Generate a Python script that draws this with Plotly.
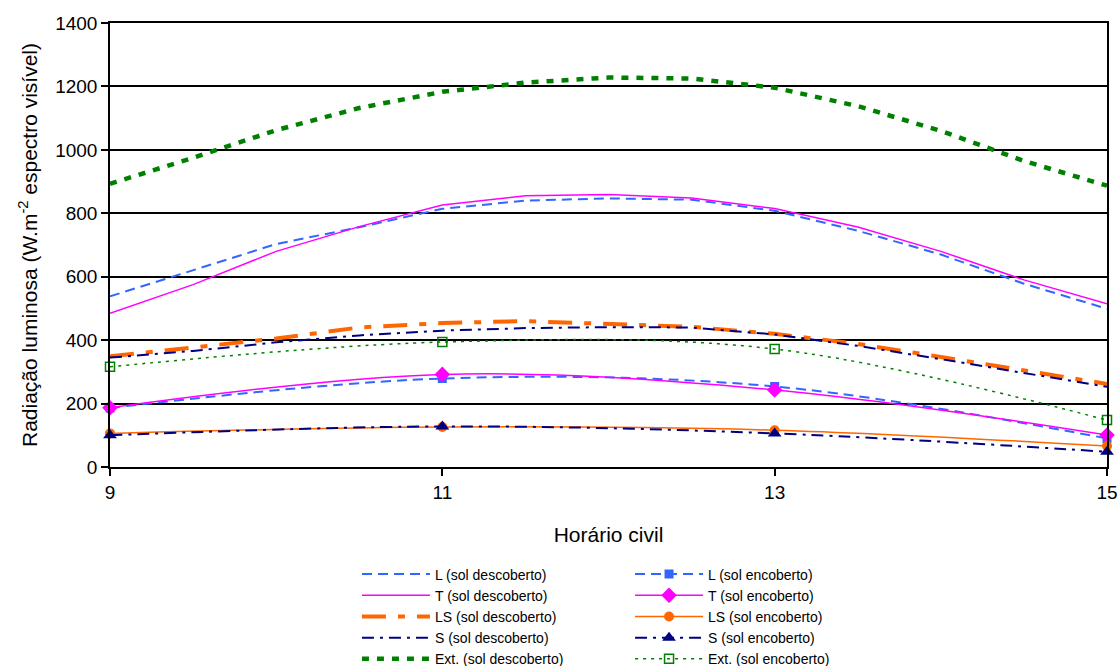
import plotly.graph_objects as go

# Horário civil (hours)
hours_fine = [9.0, 9.5, 10.0, 10.5, 11.0, 11.5, 12.0, 12.5, 13.0, 13.5, 14.0, 14.5, 15.0]
hours_enc = [9, 11, 13, 15]

# Sol descoberto (clear sky)
L_desc = [538, 620, 703, 756, 814, 840, 847, 843, 808, 745, 670, 578, 499]
T_desc = [485, 575, 680, 758, 826, 855, 859, 848, 815, 757, 680, 590, 515]
LS_desc = [349, 376, 405, 440, 454, 460, 452, 442, 420, 388, 347, 303, 262]
S_desc = [345, 366, 393, 415, 430, 438, 441, 440, 418, 382, 340, 296, 253]
Ext_desc = [893, 975, 1062, 1132, 1183, 1212, 1228, 1225, 1196, 1138, 1060, 965, 887]

# Sol encoberto (overcast)
L_enc = [186, 279, 254, 90]
T_enc = [187, 292, 243, 101]
LS_enc = [106, 126, 116, 66]
S_enc = [100, 128, 106, 48]
Ext_enc = [316, 394, 372, 148]

y_ticks = [0, 200, 400, 600, 800, 1000, 1200, 1400]
x_ticks = [9, 11, 13, 15]

BLUE = "#3366FF"
MAG = "#FF00FF"
ORANGE = "#FF6600"
NAVY = "#000080"
GREEN = "#008000"

fig = go.Figure()

desc = [
    ("L (sol descoberto)", L_desc, dict(color=BLUE, width=2, dash="10px,6px")),
    ("T (sol descoberto)", T_desc, dict(color=MAG, width=1.5)),
    ("LS (sol descoberto)", LS_desc, dict(color=ORANGE, width=4, dash="24px,12px,7px,12px")),
    ("S (sol descoberto)", S_desc, dict(color=NAVY, width=2, dash="12px,6px,3px,6px")),
    ("Ext. (sol descoberto)", Ext_desc, dict(color=GREEN, width=4.5, dash="7px,8px")),
]
for name, ys, line in desc:
    fig.add_trace(go.Scatter(x=hours_fine, y=ys, mode="lines", name=name,
                             line=line, legend="legend", cliponaxis=False))

enc = [
    ("L (sol encoberto)", L_enc, dict(color=BLUE, width=2, dash="10px,6px", shape="spline"),
     dict(symbol="square", size=9, color=BLUE)),
    ("T (sol encoberto)", T_enc, dict(color=MAG, width=1.5, shape="spline"),
     dict(symbol="diamond", size=12, color=MAG)),
    ("LS (sol encoberto)", LS_enc, dict(color=ORANGE, width=1.5, shape="spline"),
     dict(symbol="circle", size=10, color=ORANGE)),
    ("S (sol encoberto)", S_enc, dict(color=NAVY, width=2, dash="12px,6px,3px,6px", shape="spline"),
     dict(symbol="triangle-up", size=12, color=NAVY)),
    ("Ext. (sol encoberto)", Ext_enc, dict(color=GREEN, width=1.5, dash="3px,5px", shape="spline"),
     dict(symbol="square-open", size=9, color=GREEN, line=dict(width=1.5, color=GREEN))),
]
for name, ys, line, marker in enc:
    fig.add_trace(go.Scatter(x=hours_enc, y=ys, mode="lines+markers", name=name,
                             line=line, marker=marker, legend="legend2", cliponaxis=False))

FONT = "Liberation Sans, Arial, sans-serif"

legend_common = dict(
    xanchor="left", yanchor="top",
    font=dict(family=FONT, size=14, color="black"),
    itemwidth=68, tracegroupgap=0, bgcolor="rgba(0,0,0,0)",
)

fig.update_layout(
    width=1120, height=666,
    margin=dict(l=110, r=13, t=23, b=199, autoexpand=False),
    paper_bgcolor="white", plot_bgcolor="white",
    font=dict(family=FONT, size=19, color="black"),
    showlegend=True,
    legend=dict(x=0.2477, y=-0.206, **legend_common),
    legend2=dict(x=0.5216, y=-0.206, **legend_common),
)

fig.update_xaxes(
    range=[9, 15], tickvals=x_ticks, ticktext=[str(v) for v in x_ticks],
    showgrid=False, zeroline=False,
    showline=True, linecolor="black", linewidth=1.5, mirror=True,
    ticks="outside", ticklen=7, tickcolor="black", tickwidth=1.5,
    tickfont=dict(family=FONT, size=19, color="black"),
    title=dict(text="Horário civil", font=dict(family=FONT, size=21, color="black"), standoff=26),
)
fig.update_yaxes(
    range=[0, 1400], tickvals=y_ticks,
    showgrid=True, gridcolor="black", gridwidth=1.5, zeroline=False,
    showline=True, linecolor="black", linewidth=1.5, mirror=True,
    ticks="outside", ticklen=7, tickcolor="black", tickwidth=1.5,
    tickfont=dict(family=FONT, size=19, color="black"),
    title=dict(text="Radiação luminosa (W.m<sup>-2</sup> espectro visível)",
               font=dict(family=FONT, size=21, color="black"), standoff=12),
)

fig.write_html("out.html",
               config={"displayModeBar": False},
               post_script="document.body.style.margin='0';document.body.style.padding='0';")
